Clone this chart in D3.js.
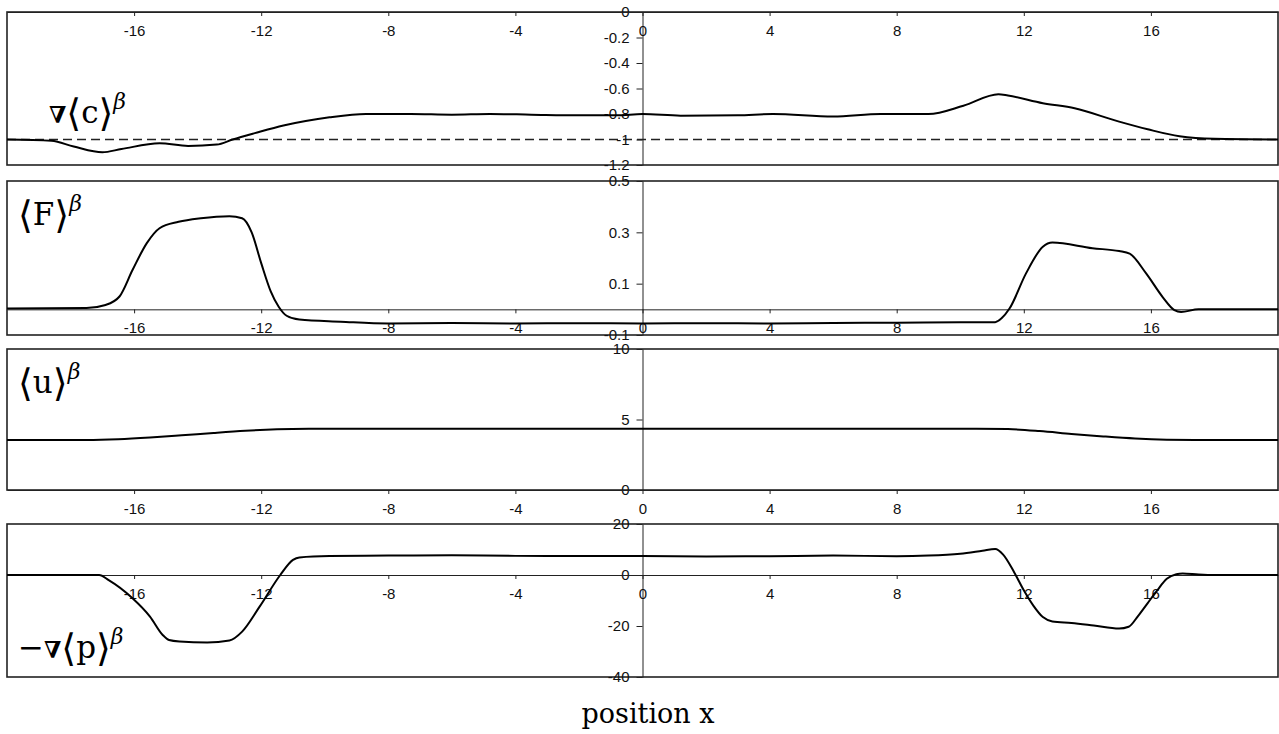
<!DOCTYPE html>
<html>
<head>
<meta charset="utf-8">
<script src="https://cdn.jsdelivr.net/npm/d3@7"></script>
<style>
  body { margin: 0; background: #fff; }
  .tick text { font-family: "Liberation Sans", Arial, sans-serif; font-size: 15px; fill: #111; }
  .math { font-family: "DejaVu Serif", "DejaVu Sans", serif; fill: #000; }
</style>
</head>
<body>
<div id="chart"></div>
<script>
// Four stacked panels sharing one position axis

const xTicks = [-16, -12, -8, -4, 0, 4, 8, 12, 16];

// panel 1: concentration gradient
const gradCX = [-20, -18.6, -17.9, -17.0, -16.4, -15.2, -14.3, -13.4, -12.9, -12.2, -11.3, -10.6, -9.85, -8.7, -7.3, -6.0, -4.8, -3.5, -2.0, -0.8, 0, 1.2, 3.0, 4.1, 6.0, 7.5, 9.0, 10.1, 11.2, 11.5, 12.6, 13.6, 15.0, 15.9, 16.9, 18.0, 20];
const gradCY = [-1.0, -1.01, -1.055, -1.10, -1.075, -1.03, -1.05, -1.04, -1.0, -0.95, -0.89, -0.855, -0.826, -0.80, -0.80, -0.805, -0.80, -0.805, -0.81, -0.81, -0.80, -0.813, -0.81, -0.80, -0.82, -0.80, -0.80, -0.735, -0.645, -0.655, -0.715, -0.755, -0.86, -0.92, -0.975, -0.995, -1.0];
const gradCTicks = [0, -0.2, -0.4, -0.6, -0.8, -1, -1.2];
const gradCRef = -1;

// panel 2: force
const forceX = [-20, -17.5, -16.9, -16.46, -16.05, -15.6, -15.2, -14.6, -13.9, -13.0, -12.6, -12.3, -12.0, -11.7, -11.45, -11.2, -10.8, -9.5, -8, -6, -4, -2, 0, 2, 4, 6, 8, 10, 11.1, 11.3, 11.55, 12.07, 12.6, 12.9, 14.16, 15.0, 15.33, 15.85, 16.37, 16.74, 16.95, 17.5, 20];
const forceY = [0.003, 0.005, 0.017, 0.05, 0.153, 0.258, 0.316, 0.341, 0.355, 0.363, 0.355, 0.3, 0.18, 0.07, 0.01, -0.025, -0.04, -0.048, -0.055, -0.053, -0.055, -0.054, -0.055, -0.054, -0.055, -0.053, -0.052, -0.05, -0.05, -0.035, 0.003, 0.14, 0.244, 0.26, 0.238, 0.227, 0.217, 0.14, 0.048, -0.003, -0.01, 0.0, 0.0];
const forceTicks = [0.5, 0.3, 0.1, -0.1];

// panel 3: velocity
const velX = [-20, -17.5, -16.5, -15.5, -14.5, -13.5, -12.5, -11.5, -10.5, -9, 0, 9, 10.5, 11.5, 12.5, 13.5, 14.5, 15.5, 16.5, 17.5, 20];
const velY = [3.55, 3.55, 3.6, 3.72, 3.88, 4.05, 4.2, 4.3, 4.34, 4.35, 4.35, 4.35, 4.35, 4.32, 4.18, 3.98, 3.8, 3.65, 3.57, 3.55, 3.55];
const velTicks = [10, 5, 0];

// panel 4: pressure gradient
const gradPX = [-20, -17.1, -16.8, -16.05, -15.5, -15.1, -14.9, -14.57, -13.7, -13.0, -12.6, -12.05, -11.4, -11.0, -10.8, -9.85, -8, -6, -4, -2, 0, 2, 4, 6, 8, 9, 10, 10.7, 11.1, 11.35, 11.7, 12.0, 12.3, 12.6, 12.9, 13.5, 14.2, 15.0, 15.3, 15.6, 15.9, 16.2, 16.5, 16.8, 17.0, 17.5, 18, 20];
const gradPY = [0, 0, -2, -9.1, -16.3, -23.5, -25.5, -26.1, -26.5, -25.7, -22.2, -12.4, 0, 5.9, 6.9, 7.45, 7.6, 7.7, 7.5, 7.5, 7.5, 7.3, 7.4, 7.6, 7.4, 7.6, 8.3, 9.5, 10.2, 8, 1, -6, -12, -16.5, -18.2, -18.8, -19.8, -21, -20.3, -16, -11, -6, -1.5, 0.3, 0.6, 0.2, 0, 0];
const gradPTicks = [20, 0, -20, -40];

function renderPanels(containerId) {
  const width = 1279, height = 734;
  const container = d3.select(`#${containerId}`);
  container.selectAll("*").remove();

  const svg = container.append("svg")
    .attr("width", width)
    .attr("height", height);

  svg.append("rect").attr("width", width).attr("height", height).attr("fill", "#fff");

  const x = d3.scaleLinear().domain([-20, 20]).range([7, 1278]);

  const panels = [
    { top: 12, bottom: 165, xs: gradCX, ys: gradCY, ticks: gradCTicks, label: "c", nabla: true },
    { top: 181, bottom: 335, xs: forceX, ys: forceY, ticks: forceTicks, label: "F" },
    { top: 349, bottom: 490, xs: velX, ys: velY, ticks: velTicks, label: "u" },
    { top: 524, bottom: 677, xs: gradPX, ys: gradPY, ticks: gradPTicks, label: "p", nabla: true, minus: true }
  ];

  const line = d3.line().curve(d3.curveMonotoneX);

  panels.forEach((p, i) => {
    const y = d3.scaleLinear()
      .domain(d3.extent(p.ticks))
      .range([p.bottom, p.top]);

    // frame
    svg.append("rect")
      .attr("x", x.range()[0])
      .attr("y", p.top)
      .attr("width", x.range()[1] - x.range()[0])
      .attr("height", p.bottom - p.top)
      .attr("fill", "none")
      .attr("stroke", "#222")
      .attr("stroke-width", 1.6);

    // reference line at -1 in the first panel
    if (i === 0) {
      svg.append("line")
        .attr("x1", x.range()[0]).attr("x2", x.range()[1])
        .attr("y1", y(gradCRef)).attr("y2", y(gradCRef))
        .attr("stroke", "#222")
        .attr("stroke-width", 1.3)
        .attr("stroke-dasharray", "9,5");
    }

    // y axis sits at x = 0
    const ya = svg.append("g")
      .attr("transform", `translate(${x(0)},0)`)
      .call(d3.axisLeft(y).tickValues(p.ticks).tickSize(6).tickSizeOuter(0).tickPadding(7).tickFormat(d => String(d)));
    ya.select(".domain").attr("stroke", "#222");
    ya.selectAll(".tick line").attr("stroke", "#222");

    // x axis sits at y = 0
    const xa = svg.append("g")
      .attr("transform", `translate(0,${y(0)})`)
      .call(d3.axisBottom(x).tickValues(xTicks).tickSize(4).tickSizeOuter(0).tickPadding(9).tickFormat(d => String(d)));
    xa.select(".domain").attr("stroke", "#222");
    xa.selectAll(".tick line").attr("stroke", "#222");

    // data curve
    svg.append("path")
      .datum(p.xs.map((v, k) => [x(v), y(p.ys[k])]))
      .attr("d", line)
      .attr("fill", "none")
      .attr("stroke", "#000")
      .attr("stroke-width", 2);
  });

  // panel labels
  const labelPos = [
    { x: 49, y: 123 },
    { x: 18, y: 225 },
    { x: 18, y: 393 },
    { x: 18, y: 658 }
  ];
  panels.forEach((p, i) => {
    const t = svg.append("text")
      .attr("class", "math")
      .attr("x", labelPos[i].x)
      .attr("y", labelPos[i].y)
      .attr("font-size", 31);
    if (p.minus) t.append("tspan").text("\u2212");
    if (p.nabla) t.append("tspan").attr("font-weight", "bold").attr("font-size", 23).text("\u2207");
    t.append("tspan").attr("font-size", 38).attr("dy", 3).text("\u27E8");
    t.append("tspan").attr("dy", -3).text(p.label);
    t.append("tspan").attr("font-size", 38).attr("dy", 3).text("\u27E9");
    t.append("tspan")
      .attr("font-style", "italic")
      .attr("font-size", 22)
      .attr("dy", -17)
      .text("\u03B2");
  });

  svg.append("text")
    .attr("class", "math")
    .attr("x", 648)
    .attr("y", 723)
    .attr("text-anchor", "middle")
    .attr("font-size", 27)
    .text("position x");
}

document.addEventListener("DOMContentLoaded", () => {
  renderPanels("chart");
});
</script>
</body>
</html>
